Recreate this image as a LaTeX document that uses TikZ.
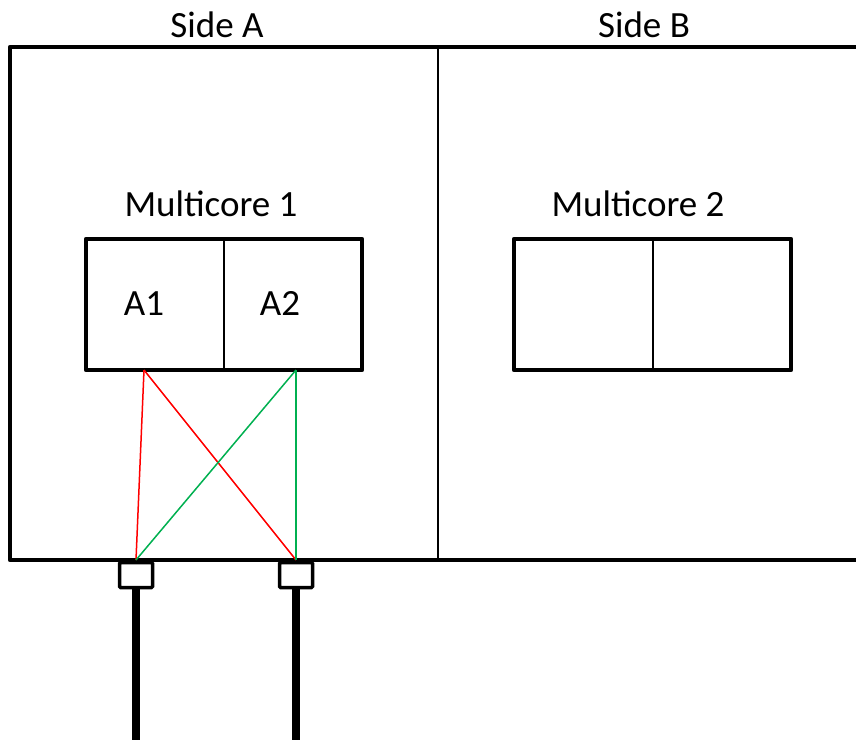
\documentclass[tikz,border=0pt]{standalone}
\usepackage{fontspec}
\setmainfont{Carlito}
\definecolor{wiregreen}{HTML}{00B050}
\definecolor{wirered}{HTML}{FF0000}
\begin{document}
\begin{tikzpicture}[x=1pt,y=-1pt,
  lbl/.style={font=\fontsize{37}{40}\selectfont, anchor=base, inner sep=0pt},
  thick frame/.style={line width=4.5pt, line join=round},
  thin div/.style={line width=1.5pt},
  port/.style={draw, line width=3.5pt, fill=white, minimum width=33pt, minimum height=25pt, inner sep=0pt, rounded corners=1pt},
  cable/.style={line width=8pt},
  redw/.style={draw=wirered, line width=1.5pt},
  greenw/.style={draw=wiregreen, line width=1.5pt}]
  \useasboundingbox (0,0) rectangle (856,740);
  % enclosure (open to the right)
  \draw[thick frame] (880,47) -- (10,47) -- (10,560) -- (880,560);
  \draw[thin div] (438,47) -- (438,560);
  % side titles
  \node[lbl] (sideA) at (217,37) {Side A};
  \node[lbl] (sideB) at (644,37) {Side B};
  % multicore 1
  \node[lbl] (mc1) at (211,216) {Multicore 1};
  \draw[thick frame] (86,239) rectangle (362,370);
  \draw[thin div] (224,239) -- (224,370);
  \node[lbl] (a1) at (144,315) {A1};
  \node[lbl] (a2) at (280,315) {A2};
  % multicore 2
  \node[lbl] (mc2) at (638,216) {Multicore 2};
  \draw[thick frame] (514,239) rectangle (791,370);
  \draw[thin div] (653,239) -- (653,370);
  % core taps and port entry points
  \coordinate (t1) at (144,370);
  \coordinate (t2) at (296,370);
  \coordinate (e1) at (136,560);
  \coordinate (e2) at (296,560);
  % cables
  \draw[cable] (136,586) -- (136,740);
  \draw[cable] (296,586) -- (296,740);
  % ports
  \node[port] (p1) at (136,575) {};
  \node[port] (p2) at (296,575) {};
  % wiring
  \draw[redw] (t1) -- (e1);
  \draw[redw] (t1) -- (e2);
  \draw[greenw] (t2) -- (e2);
  \draw[greenw] (t2) -- (e1);
\end{tikzpicture}
\end{document}
